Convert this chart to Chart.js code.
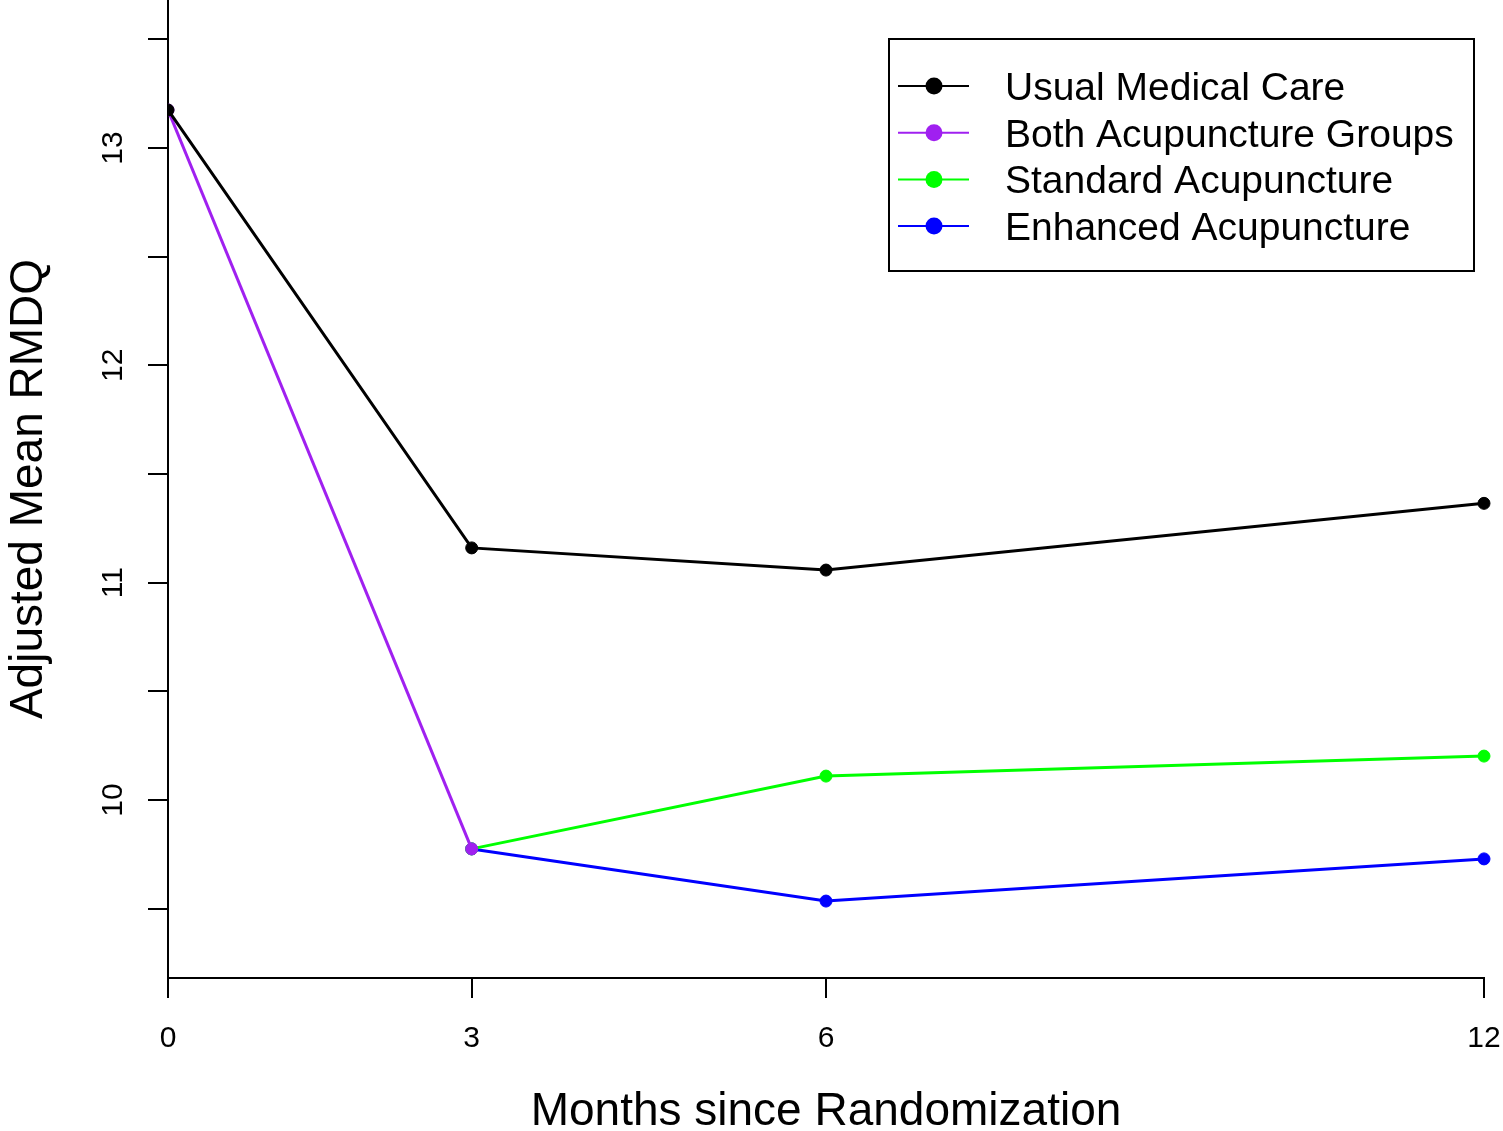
<!DOCTYPE html>
<html>
<head>
<meta charset="utf-8">
<script src="https://cdn.jsdelivr.net/npm/chart.js@4.4.1/dist/chart.umd.min.js"></script>
<style>
html,body{margin:0;padding:0;background:#fff;}
#canvasContainer{width:1503px;height:1131px;}
</style>
</head>
<body>
<div id="canvasContainer"><canvas id="Grafica" width="1503" height="1131"></canvas></div>
<script>
// x positions are weeks (0, 12, 26, 52), labelled in months
const weekPos = [0, 12, 26, 52];
const monthLabels = ['0', '3', '6', '12'];

const usualCare   = [13.175, 11.16, 11.058, 11.365];
const bothAcu     = [13.175, 9.775];          // weeks 0, 12
const standardAcu = [9.775, 10.11, 10.202];   // weeks 12, 26, 52
const enhancedAcu = [9.775, 9.535, 9.729];    // weeks 12, 26, 52

const yTicks = [9.5, 10, 10.5, 11, 11.5, 12, 12.5, 13, 13.5];
const yTickLabels = ['10', '11', '12', '13'];

const legendOrder = ['Usual Medical Care', 'Both Acupuncture Groups', 'Standard Acupuncture', 'Enhanced Acupuncture'];

function toPoints(xs, ys){
    return ys.map((v, i) => ({x: xs[i], y: v}));
}

function makeSet(label, color, data, order){
    return {
        label: label,
        data: data,
        borderColor: color,
        backgroundColor: color,
        pointBackgroundColor: color,
        pointBorderColor: color,
        borderWidth: 3,
        pointRadius: 6,
        pointBorderWidth: 1,
        tension: 0,
        order: order,
        clip: {left: 0, right: 12, top: 12, bottom: 12}
    };
}

function noPad(s){
    s.paddingLeft = 0;
    s.paddingRight = 0;
    s.paddingTop = 0;
    s.paddingBottom = 0;
}

// y tick labels (rotated like R) and the boxed legend
const extras = {
    id: 'extras',
    afterDraw(chart){
        const ctx = chart.ctx;
        const y = chart.scales.y;
        ctx.save();
        ctx.fillStyle = '#000';
        ctx.font = '30px "Liberation Sans", Arial, sans-serif';
        ctx.textAlign = 'center';
        ctx.textBaseline = 'alphabetic';
        yTickLabels.forEach(t => {
            const py = y.getPixelForValue(Number(t));
            ctx.save();
            ctx.translate(122, py);
            ctx.rotate(-Math.PI / 2);
            ctx.fillText(t, 0, 0);
            ctx.restore();
        });

        // legend
        ctx.strokeStyle = '#000';
        ctx.lineWidth = 2;
        ctx.strokeRect(889, 39, 585, 232);
        ctx.font = '39px "Liberation Sans", Arial, sans-serif';
        ctx.textAlign = 'left';
        legendOrder.forEach((lab, i) => {
            const ds = chart.data.datasets.find(d => d.label === lab);
            const ry = 86 + i * 46.7;
            ctx.strokeStyle = ds.borderColor;
            ctx.lineWidth = 2;
            ctx.beginPath();
            ctx.moveTo(898, ry);
            ctx.lineTo(969, ry);
            ctx.stroke();
            ctx.fillStyle = ds.borderColor;
            ctx.beginPath();
            ctx.arc(934, ry, 8.5, 0, Math.PI * 2);
            ctx.fill();
            ctx.fillStyle = '#000';
            ctx.fillText(lab, 1005, ry + 14);
        });
        ctx.restore();
    }
};

let ctx = document.getElementById('Grafica').getContext('2d');
new Chart(ctx, {
    type: 'line',
    data: {
        datasets: [
            makeSet('Usual Medical Care', '#000000', toPoints(weekPos, usualCare), 0),
            makeSet('Both Acupuncture Groups', '#A020F0', toPoints(weekPos.slice(0, 2), bothAcu), 1),
            makeSet('Standard Acupuncture', '#00FF00', toPoints(weekPos.slice(1), standardAcu), 2),
            makeSet('Enhanced Acupuncture', '#0000FF', toPoints(weekPos.slice(1), enhancedAcu), 3)
        ]
    },
    plugins: [extras],
    options: {
        responsive: false,
        devicePixelRatio: 1,
        animation: false,
        layout: {autoPadding: false, padding: {left: 0, right: 19, top: 0, bottom: 0}},
        plugins: {legend: {display: false}, tooltip: {enabled: false}},
        scales: {
            x: {
                type: 'linear',
                min: 0,
                max: 52,
                afterBuildTicks: s => { s.ticks = weekPos.map(v => ({value: v})); },
                afterFit: s => { s.height = 153; noPad(s); },
                ticks: {
                    callback: v => monthLabels[weekPos.indexOf(v)],
                    font: {size: 30, family: '"Liberation Sans", Arial, sans-serif'},
                    color: '#000',
                    padding: 23,
                    maxRotation: 0,
                    autoSkip: false
                },
                grid: {drawOnChartArea: false, drawTicks: true, tickLength: 20, color: '#000', lineWidth: 2},
                border: {display: true, color: '#000', width: 2},
                title: {
                    display: true,
                    text: 'Months since Randomization',
                    color: '#000',
                    font: {size: 46, family: '"Liberation Sans", Arial, sans-serif', lineHeight: 0.9},
                    padding: {top: 0, bottom: -2}
                }
            },
            y: {
                type: 'linear',
                min: 9.181,
                max: 13.681,
                afterBuildTicks: s => { s.ticks = yTicks.map(v => ({value: v})); },
                afterFit: s => { s.width = 168; noPad(s); },
                ticks: {display: false},
                grid: {drawOnChartArea: false, drawTicks: true, tickLength: 20, color: '#000', lineWidth: 2},
                border: {display: true, color: '#000', width: 2},
                title: {
                    display: true,
                    text: 'Adjusted Mean RMDQ',
                    color: '#000',
                    font: {size: 46, family: '"Liberation Sans", Arial, sans-serif', lineHeight: 0.9},
                    padding: {top: 9, bottom: 0}
                }
            }
        }
    }
});
</script>
</body>
</html>
